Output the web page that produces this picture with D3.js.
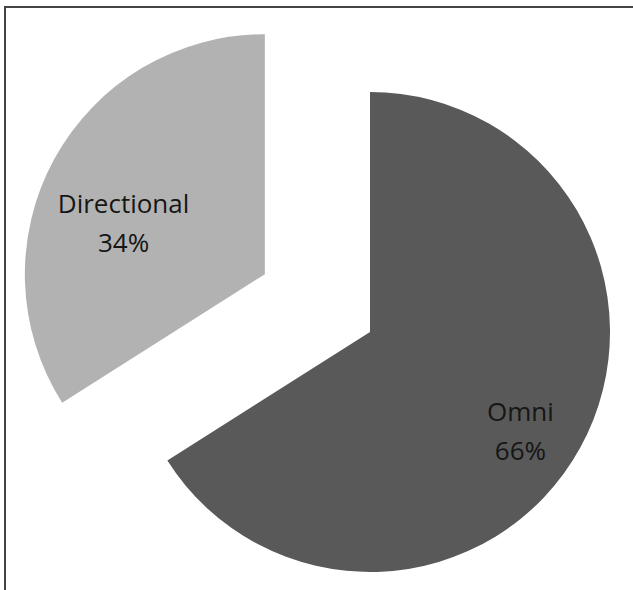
<!DOCTYPE html>
<html>
<head>
<meta charset="utf-8">
<script src="https://cdn.jsdelivr.net/npm/d3@7"></script>
<style>
  body { margin: 0; background: #fff; }
  svg { display: block; }
</style>
</head>
<body>
<svg></svg>
<script>
// chart data
const labels = ['Omni', 'Directional'];
const shares = [66, 34];
const colors = ['#595959', '#b2b2b2'];

const width = 633, height = 590;
const cx = 370, cy = 332, radius = 240;
const explode = [0, 120];
// label distance from slice centre and angle (deg, clockwise from 12 o'clock)
const labelAt = [{r: 186, a: 126}, {r: 147, a: 286}];

const svg = d3.select('svg')
    .attr('width', width)
    .attr('height', height);

svg.append('rect')
    .attr('width', width)
    .attr('height', height)
    .attr('fill', '#fff');

// frame of the original figure, running off the right and bottom edge
svg.append('rect')
    .attr('x', 5)
    .attr('y', 7)
    .attr('width', width + 20)
    .attr('height', height + 20)
    .attr('fill', 'none')
    .attr('stroke', '#444')
    .attr('stroke-width', 2);

const pie = d3.pie().sort(null).value(d => d);
const arcs = pie(shares);

const arc = d3.arc()
    .innerRadius(0)
    .outerRadius(radius);

const g = svg.append('g')
    .attr('transform', `translate(${cx},${cy})`);

const slices = g.selectAll('.slice')
    .data(arcs)
    .enter().append('g')
    .attr('class', 'slice')
    .attr('transform', (d, i) => {
        const mid = (d.startAngle + d.endAngle) / 2;
        const dx = Math.sin(mid) * explode[i];
        const dy = -Math.cos(mid) * explode[i];
        return `translate(${dx},${dy})`;
    });

slices.append('path')
    .attr('d', arc)
    .attr('fill', (d, i) => colors[i]);

const text = slices.append('text')
    .attr('transform', (d, i) => {
        const a = labelAt[i].a * Math.PI / 180;
        return `translate(${Math.sin(a) * labelAt[i].r},${-Math.cos(a) * labelAt[i].r})`;
    })
    .attr('text-anchor', 'middle')
    .attr('font-family', 'Open Sans, sans-serif')
    .attr('font-size', 26)
    .attr('fill', '#161616');

text.append('tspan')
    .attr('x', 0)
    .attr('dy', '-0.8em')
    .text((d, i) => labels[i]);

text.append('tspan')
    .attr('x', 0)
    .attr('dy', '1.5em')
    .text(d => d.data + '%');
</script>
</body>
</html>
